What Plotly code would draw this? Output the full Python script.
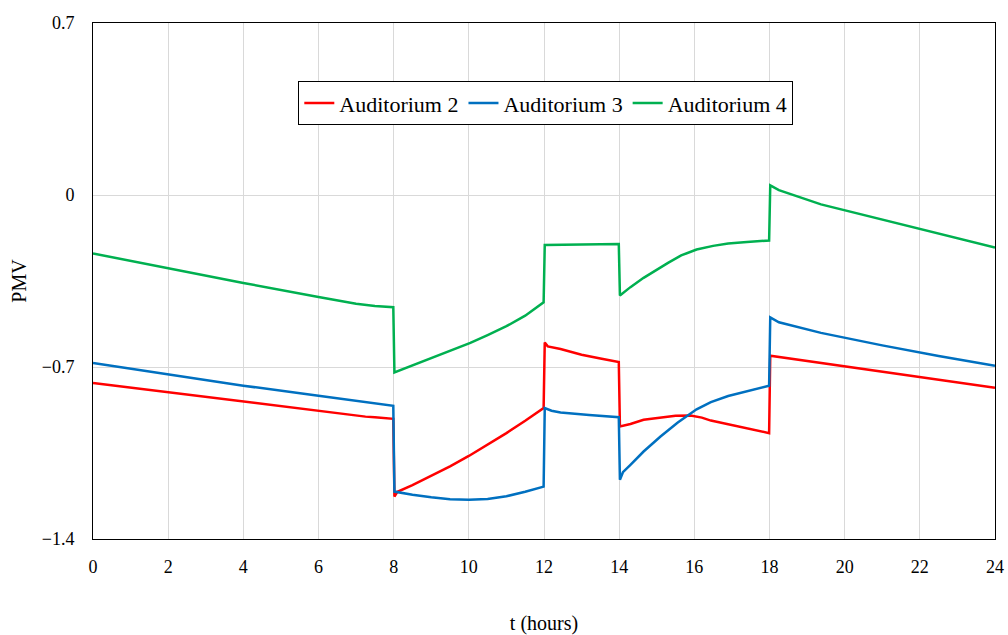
import plotly.graph_objects as go

# PMV over a day for three auditoriums (time in hours)
t_aud2 = [0, 2, 4, 6, 6.5, 7, 7.25, 7.5, 7.75, 7.99,
          8.02, 8.1, 8.5, 9, 9.5, 10, 10.5, 11, 11.5, 11.99,
          12.02, 12.1, 12.44, 13, 13.5, 13.99,
          14.02, 14.3, 14.65, 15.1, 15.5, 15.9, 16.2, 16.44, 17, 17.5, 17.99,
          18.02, 21, 24]
pmv_aud2 = [-0.765, -0.803, -0.843, -0.881, -0.890, -0.897, -0.902, -0.905,
            -0.909, -0.911,
            -1.227, -1.208, -1.181, -1.144, -1.104, -1.062, -1.017, -0.969,
            -0.919, -0.867,
            -0.600, -0.616, -0.627, -0.650, -0.665, -0.680,
            -0.942, -0.932, -0.915, -0.905, -0.898, -0.897, -0.906, -0.918,
            -0.936, -0.953, -0.969,
            -0.654, -0.719, -0.784]

t_aud3 = [0, 2, 4, 6, 7.99,
          8.02, 8.5, 9, 9.5, 10, 10.5, 11, 11.5, 11.99,
          12.02, 12.2, 12.44, 13.2, 13.99,
          14.02, 14.1, 14.3, 14.65, 15.1, 15.56, 16.06, 16.44, 16.9, 17.3, 17.99,
          18.02, 18.25, 19.37, 21, 22.5, 24]
pmv_aud3 = [-0.684, -0.731, -0.776, -0.817, -0.858,
            -1.207, -1.220, -1.230, -1.238, -1.240, -1.237, -1.226, -1.208,
            -1.187,
            -0.867, -0.878, -0.885, -0.895, -0.904,
            -1.159, -1.128, -1.098, -1.044, -0.983, -0.926, -0.872, -0.843,
            -0.818, -0.803, -0.776,
            -0.498, -0.518, -0.561, -0.612, -0.655, -0.695]

t_aud4 = [0, 2, 4, 6, 6.5, 7, 7.5, 7.99,
          8.02, 8.5, 8.98, 9.5, 10.04, 10.5, 11, 11.5, 11.99,
          12.02, 13.99,
          14.02, 14.3, 14.65, 15.0, 15.3, 15.65, 16.06, 16.5, 16.9, 17.4, 17.99,
          18.02, 18.25, 19.37, 21, 22.5, 24]
pmv_aud4 = [-0.238, -0.299, -0.358, -0.415, -0.430, -0.443, -0.452, -0.457,
            -0.722, -0.694, -0.666, -0.636, -0.602, -0.570, -0.534, -0.491,
            -0.437,
            -0.203, -0.199,
            -0.409, -0.375, -0.337, -0.303, -0.276, -0.246, -0.222, -0.207,
            -0.197, -0.191, -0.185,
            0.039, 0.020, -0.038, -0.100, -0.157, -0.214]

series = [
    ("Auditorium 2", t_aud2, pmv_aud2, "#FF0000"),
    ("Auditorium 3", t_aud3, pmv_aud3, "#0070C0"),
    ("Auditorium 4", t_aud4, pmv_aud4, "#00B050"),
]

x_ticks = list(range(0, 25, 2))
y_ticks = [-1.4, -0.7, 0, 0.7]

font_family = "Liberation Serif, DejaVu Serif, serif"

fig = go.Figure()
for name, t, v, color in series:
    fig.add_trace(go.Scatter(
        x=t, y=v, name=name, mode="lines",
        line=dict(color=color, width=2.5),
    ))

fig.update_layout(
    width=1008, height=635,
    margin=dict(l=93, r=13, t=23, b=96),
    paper_bgcolor="white", plot_bgcolor="white",
    font=dict(family=font_family, size=18, color="black"),
    legend=dict(
        orientation="h", x=0.502, y=0.887, xanchor="center", yanchor="top",
        bgcolor="white", bordercolor="black", borderwidth=1,
        font=dict(family=font_family, size=22, color="black"),
        itemwidth=30, tracegroupgap=0,
    ),
    showlegend=True,
)

fig.update_xaxes(
    range=[0, 24], tickvals=x_ticks, ticks="", automargin=False,
    ticklabelstandoff=11,
    showgrid=True, gridcolor="#d9d9d9", gridwidth=1,
    showline=True, linecolor="black", linewidth=1, mirror=True,
    zeroline=False,
    title=dict(text="t (hours)", standoff=43,
               font=dict(family=font_family, size=20)),
    tickfont=dict(family=font_family, size=18),
)
fig.update_yaxes(
    range=[-1.4, 0.7], tickvals=y_ticks, ticks="", automargin=False,
    ticklabelstandoff=14,
    showgrid=True, gridcolor="#d9d9d9", gridwidth=1,
    showline=True, linecolor="black", linewidth=1, mirror=True,
    zeroline=False,
    title=dict(text="PMV", standoff=9,
               font=dict(family=font_family, size=20)),
    tickfont=dict(family=font_family, size=18),
)

fig.write_html("out.html")
